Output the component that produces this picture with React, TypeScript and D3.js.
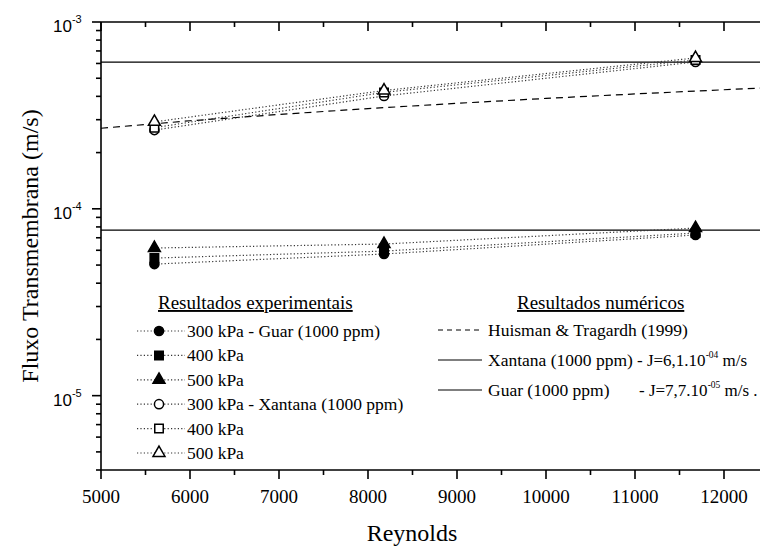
import React from 'react'
import * as d3 from 'd3'

// Reynolds numbers of the experiments
const reynolds = [5600, 8180, 11680]

// transmembrane flux (m/s), Guar 1000 ppm
const guar300 = [5.06e-5, 5.73e-5, 7.24e-5]
const guar400 = [5.45e-5, 5.94e-5, 7.42e-5]
const guar500 = [6.17e-5, 6.48e-5, 7.89e-5]

// transmembrane flux (m/s), Xantana 1000 ppm
const xant300 = [2.64e-4, 4.02e-4, 6.11e-4]
const xant400 = [2.72e-4, 4.2e-4, 6.26e-4]
const xant500 = [2.92e-4, 4.3e-4, 6.42e-4]

// Huisman & Tragardh (1999) correlation
const huismanRe = [5000, 6000, 7000, 8000, 9000, 10000, 11000, 12000, 12500]
const huismanJ = [2.7e-4, 2.96e-4, 3.2e-4, 3.44e-4, 3.67e-4, 3.9e-4, 4.12e-4, 4.34e-4, 4.45e-4]

// numerical results (constant flux)
const xantanaJ = 6.1e-4
const guarJ = 7.7e-5

const xMajorTicks = [5000, 6000, 7000, 8000, 9000, 10000, 11000, 12000]
const yMajorTicks = [1e-3, 1e-4, 1e-5]
const yTickExp = ['-3', '-4', '-5']

const series = [
    { label: '300 kPa - Guar (1000 ppm)', values: guar300, shape: 'circle', filled: true },
    { label: '400 kPa', values: guar400, shape: 'square', filled: true },
    { label: '500 kPa', values: guar500, shape: 'triangle', filled: true },
    { label: '300 kPa - Xantana (1000 ppm)', values: xant300, shape: 'circle', filled: false },
    { label: '400 kPa', values: xant400, shape: 'square', filled: false },
    { label: '500 kPa', values: xant500, shape: 'triangle', filled: false },
]

const numRows = [
    { label: 'Huisman & Tragardh (1999)', dash: '5,4', j: null, exp: null, tail: '' },
    { label: 'Xantana (1000 ppm)', dash: undefined, j: '- J=6,1.10', exp: '-04', tail: ' m/s' },
    { label: 'Guar (1000 ppm)', dash: undefined, j: '- J=7,7.10', exp: '-05', tail: ' m/s .' },
]

const SERIF = 'Liberation Serif'
const SANS = 'Liberation Sans'

function symbolPath(shape) {
    if (shape === 'circle') return d3.symbol().type(d3.symbolCircle).size(66)()
    if (shape === 'square') return d3.symbol().type(d3.symbolSquare).size(72)()
    return d3.symbol().type(d3.symbolTriangle).size(62)()
}

export default function App() {
    const height = 546
    const margin = { top: 22, left: 101, bottom: 76 }
    const plotH = height - margin.top - margin.bottom

    const x = d3.scaleLinear().domain([5000, 12500]).range([margin.left, margin.left + 667.5])
    const y = d3.scaleLog().domain([4e-6, 1e-3]).range([margin.top + plotH, margin.top])

    const bottomY = y(4e-6)
    const topY = y(1e-3)
    const xMinor = d3.range(5000, 12501, 500)
    const yMinor = y.ticks()

    const line = d3.line().x((d, i) => x(reynolds[i])).y(d => y(d))
    const huismanLine = d3.line().x(d => x(d[0])).y(d => y(d[1]))
    const huisman = huismanRe.map((r, i) => [r, huismanJ[i]])

    const axisStroke = { stroke: '#000', strokeWidth: 1.6 }
    const dotted = { stroke: '#333', strokeWidth: 1.2, strokeDasharray: '1.2,2.2', fill: 'none' }

    return (
        <svg width={760} height={546}
            style={{ position: 'absolute', left: 0, top: 0, background: '#fff' }}>
            {/* axes */}
            <line x1={x(5000)} x2={x(12500)} y1={bottomY} y2={bottomY} {...axisStroke} />
            <line x1={x(5000)} x2={x(12500)} y1={topY} y2={topY} {...axisStroke} />
            <line x1={margin.left} x2={margin.left} y1={topY} y2={bottomY} {...axisStroke} />
            {xMinor.map(t => {
                const major = t % 1000 === 0
                return (
                    <g key={'xt' + t}>
                        <line x1={x(t)} x2={x(t)} y1={bottomY} y2={bottomY + (major ? 9 : 5)} {...axisStroke} />
                        <line x1={x(t)} x2={x(t)} y1={topY} y2={topY + (major ? 9 : 5)} {...axisStroke} />
                    </g>
                )
            })}
            {xMajorTicks.map(t => (
                <text key={'xl' + t} x={x(t)} y={bottomY + 33} textAnchor="middle"
                    fontFamily={SERIF} fontSize={19}>{t}</text>
            ))}
            {yMinor.map((t, i) => {
                const major = yMajorTicks.some(m => Math.abs(m - t) / m < 1e-6)
                return <line key={'yt' + i} x1={margin.left - (major ? 9 : 5)} x2={margin.left}
                    y1={y(t)} y2={y(t)} {...axisStroke} />
            })}
            {yMajorTicks.map((t, i) => (
                <text key={'yl' + i} x={margin.left - 48} y={y(t) + 10} fontFamily={SANS} fontSize={17}>
                    10<tspan dy={-9} fontSize={11}>{yTickExp[i]}</tspan>
                </text>
            ))}

            {/* axis titles */}
            <text transform={'translate(38,' + (margin.top + plotH / 2) + ') rotate(-90)'}
                textAnchor="middle" fontFamily={SERIF} fontSize={24}>Fluxo Transmembrana (m/s)</text>
            <text x={412} y={541} textAnchor="middle" fontFamily={SERIF} fontSize={24}>Reynolds</text>

            {/* numerical results */}
            <path d={huismanLine(huisman)} fill="none" stroke="#000" strokeWidth={1.2} strokeDasharray="7,5" />
            {[xantanaJ, guarJ].map((v, i) => (
                <line key={'h' + i} x1={x(5000)} x2={x(12500)} y1={y(v)} y2={y(v)} stroke="#000" strokeWidth={1.2} />
            ))}

            {/* experimental series */}
            {series.map((s, i) => <path key={'l' + i} d={line(s.values)} {...dotted} />)}
            {series.map((s, i) => s.values.map((v, j) => (
                <path key={'p' + i + '-' + j} d={symbolPath(s.shape)}
                    transform={'translate(' + x(reynolds[j]) + ',' + y(v) + ')'}
                    fill={s.filled ? '#000' : '#fff'} stroke="#000" strokeWidth={1.5} />
            )))}

            {/* legend: experimental */}
            <text x={158} y={309} fontFamily={SERIF} fontSize={19} textDecoration="underline">Resultados experimentais</text>
            {series.map((s, i) => {
                const cy = 331 + i * 24.4
                return (
                    <g key={'le' + i}>
                        <line x1={137} x2={185} y1={cy} y2={cy} {...dotted} />
                        <path d={symbolPath(s.shape)} transform={'translate(159,' + cy + ')'}
                            fill={s.filled ? '#000' : '#fff'} stroke="#000" strokeWidth={1.5} />
                        <text x={187} y={cy + 6} fontFamily={SERIF} fontSize={17.5}>{s.label}</text>
                    </g>
                )
            })}

            {/* legend: numerical */}
            <text x={517} y={309} fontFamily={SERIF} fontSize={19} textDecoration="underline">Resultados numéricos</text>
            {numRows.map((r, i) => {
                const cy = 330 + i * 30
                return (
                    <g key={'ln' + i}>
                        <line x1={438} x2={482} y1={cy} y2={cy} stroke="#000" strokeWidth={1.2}
                            strokeDasharray={r.dash || undefined} />
                        <text x={488} y={cy + 6} fontFamily={SERIF} fontSize={17.5}>{r.label}</text>
                        {r.j && (
                            <text x={i === 1 ? 637 : 639} y={cy + 6} fontFamily={SERIF} fontSize={17}>
                                {r.j}<tspan dy={-8} fontSize={9.5}>{r.exp}</tspan><tspan dy={8}>{r.tail}</tspan>
                            </text>
                        )}
                    </g>
                )
            })}
        </svg>
    )
}
